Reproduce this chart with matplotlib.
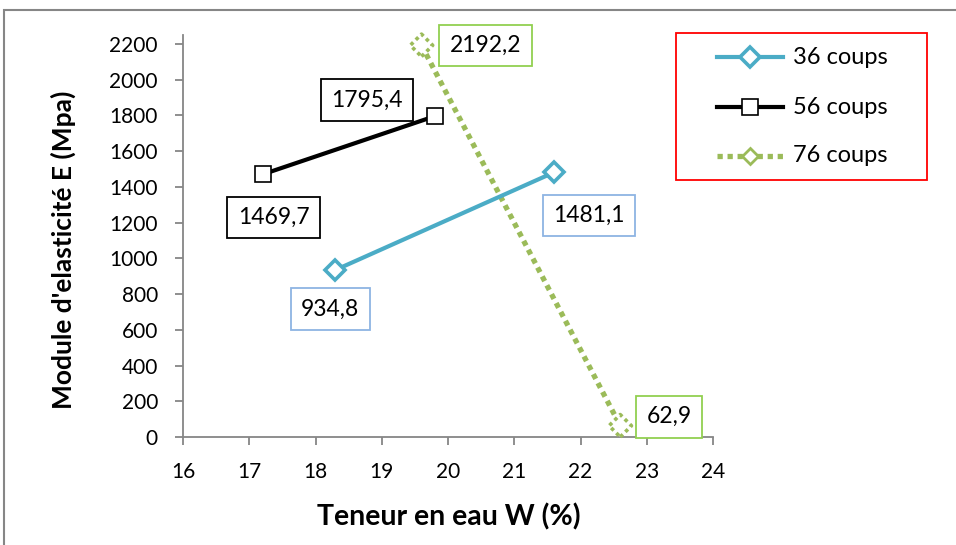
import matplotlib
matplotlib.use("Agg")
import matplotlib.pyplot as plt
from matplotlib.lines import Line2D
from matplotlib.patches import Rectangle

plt.rcParams['font.family'] = ['Lato', 'DejaVu Sans']

# Data
series_names = ["36 coups", "56 coups", "76 coups"]
w_36 = [18.3, 21.6]
e_36 = [934.8, 1481.1]
w_56 = [17.2, 19.8]
e_56 = [1469.7, 1795.4]
w_76 = [19.6, 22.6]
e_76 = [2192.2, 62.9]
x_ticks = [16, 17, 18, 19, 20, 21, 22, 23, 24]
y_ticks = list(range(0, 2201, 200))

c36 = "#4BACC6"
c56 = "#000000"
c76 = "#9BBB59"
grey = "#868686"

W, H = 956, 545
fig = plt.figure(figsize=(W / 100, H / 100), dpi=100)
fig.patch.set_facecolor("white")


def fx(px):
    return px / W


def fy(py):
    return 1 - py / H


# outer chart border
fig.add_artist(Rectangle((fx(4), -0.05), 1.2, fy(10) + 0.05,
                         transform=fig.transFigure, fill=False,
                         edgecolor=grey, linewidth=1.5))

ax = fig.add_axes([fx(183), fy(437), (713 - 183) / W, (437 - 35) / H])
ax.set_xlim(16, 24)
ax.set_ylim(0, 2250)
ax.set_xticks(x_ticks)
ax.set_yticks(y_ticks)
ax.tick_params(axis="both", labelsize=15, color=grey, width=1.3, length=6,
               direction="out")
ax.tick_params(axis="x", pad=12)
ax.tick_params(axis="y", pad=12)
for s in ("top", "right"):
    ax.spines[s].set_visible(False)
for s in ("left", "bottom"):
    ax.spines[s].set_color(grey)
    ax.spines[s].set_linewidth(1.3)

# series
ax.plot(w_36, e_36, color=c36, lw=3, marker="D", ms=10, mfc="white",
        mec=c36, mew=2.6, zorder=4)
ax.plot(w_56, e_56, color=c56, lw=3, marker="s", ms=12, mfc="white",
        mec=c56, mew=1.2, zorder=4)
ax.plot(w_76, e_76, color=c76, lw=3.8, linestyle=(0, (1, 0.9)),
        solid_capstyle="butt", dash_capstyle="butt", zorder=3)
pc = ax.scatter(w_76, e_76, s=130, marker="D", facecolors="white",
                edgecolors=c76, linewidths=2.6, zorder=3)
pc.set_linestyle((0, (1, 1)))
pc.set_clip_on(False)


# value labels
def value_label(x, y, dx, dy, edge):
    ax.annotate(f"{y:.1f}".replace(".", ","), (x, y), xytext=(dx, dy),
                textcoords="offset pixels", ha="center", va="center",
                fontsize=16.5, zorder=6,
                bbox=dict(boxstyle="square,pad=0.45", fc="white", ec=edge,
                          lw=1.3))


value_label(w_36[0], e_36[0], -5, -39, "#8EB4E3")
value_label(w_36[1], e_36[1], 35, -43, "#8EB4E3")
value_label(w_56[0], e_56[0], 11, -43, "black")
value_label(w_56[1], e_56[1], -68, 16, "black")
value_label(w_76[0], e_76[0], 64, 0, "#92D050")
value_label(w_76[1], e_76[1], 49, 9, "#92D050")

ax.set_xlabel("Teneur en eau W (%)", fontsize=20.5, fontweight="bold")
ax.set_ylabel("Module d'elasticité E (Mpa)", fontsize=19, fontweight="bold")
ax.xaxis.set_label_coords((449 - 183) / (713 - 183), -(503 - 437) / 402)
ax.yaxis.set_label_coords(-(183 - 76) / 530, (437 - 250) / 402)

# legend box
fig.add_artist(Rectangle((fx(676), fy(180)), (927 - 676) / W, (180 - 33) / H,
                         transform=fig.transFigure, fill=True, fc="white",
                         edgecolor="red", linewidth=1.3, zorder=10))
legend_rows = [57, 107, 156]
handle_styles = [
    dict(color=c36, lw=3, marker="D", ms=10, mfc="white", mec=c36, mew=2.6,
         markevery=[1]),
    dict(color=c56, lw=3, marker="s", ms=12, mfc="white", mec=c56, mew=1.2,
         markevery=[1]),
    dict(color=c76, lw=3.8, linestyle=(0, (1, 0.9)), dash_capstyle="butt"),
]
for name, row, style in zip(series_names, legend_rows, handle_styles):
    fig.add_artist(Line2D([fx(717), fx(750), fx(783)], [fy(row)] * 3,
                          transform=fig.transFigure, zorder=11, **style))
    fig.text(fx(793), fy(row), name, fontsize=17, ha="left", va="center",
             zorder=12)
leg_mark = Line2D([fx(750)], [fy(legend_rows[2])], transform=fig.transFigure,
                  marker="D", ms=8, mfc="white", mec=c76, mew=2,
                  linestyle="none", zorder=12)
fig.add_artist(leg_mark)

fig.savefig("out.png", dpi=100, facecolor="white")
